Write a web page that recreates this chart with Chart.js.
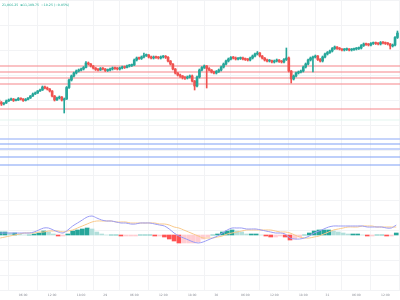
<!DOCTYPE html>
<html><head><meta charset="utf-8">
<script src="https://cdn.jsdelivr.net/npm/chart.js@4.4.1/dist/chart.umd.min.js"></script>
<style>
html,body{margin:0;padding:0;background:#fff;width:400px;height:300px;overflow:hidden}
#wrap{position:relative;width:400px;height:300px}
#c1{position:absolute;left:0;top:0}
#c2{position:absolute;left:0;top:200px}
</style></head><body>
<div id="wrap"><canvas id="c1" width="400" height="200"></canvas><canvas id="c2" width="400" height="100"></canvas></div>
<script>
// 30-minute candles
const opens=[20800,20790,20784,20788,20796,20800,20804,20798,20800,20806,
20804,20798,20802,20808,20816,20824,20828,20836,20840,20852,
20848,20844,20836,20816,20800,20808,20812,20800,20804,20850,
20880,20896,20908,20916,20920,20924,20930,20948,20944,20936,
20928,20922,20920,20926,20924,20918,20920,20924,20928,20926,
20924,20928,20932,20930,20936,20938,20940,20960,20968,20966,
20972,20978,20980,20972,20968,20972,20970,20968,20972,20974,
20971,20956,20944,20924,20908,20900,20896,20890,20888,20892,
20896,20876,20856,20892,20920,20930,20936,20926,20920,20912,
20908,20914,20920,20932,20944,20956,20964,20970,20968,20964,
20966,20968,20964,20962,20960,20968,20976,20984,20988,20976,
20968,20960,20956,20958,20952,20956,20960,20954,20952,20962,
20968,20916,20884,20896,20908,20912,20916,20932,20944,20960,
20968,20972,20976,20962,20956,20972,20984,20990,20996,21006,
21012,21006,21004,21000,21002,21004,21000,21002,21004,21006,
21008,21018,21024,21022,21020,21026,21028,21026,21024,21030,
21028,21026,21024,21016,21020,21050];
const closes=[20790,20784,20788,20796,20800,20804,20798,20800,20806,20804,
20798,20802,20808,20816,20824,20828,20836,20840,20852,20848,
20844,20836,20816,20800,20808,20812,20800,20804,20850,20880,
20896,20908,20916,20920,20924,20930,20948,20944,20936,20928,
20922,20920,20926,20924,20918,20920,20924,20928,20926,20924,
20928,20932,20930,20936,20938,20940,20960,20968,20966,20972,
20978,20980,20972,20968,20972,20970,20968,20972,20974,20971,
20956,20944,20924,20908,20900,20896,20890,20888,20892,20896,
20876,20856,20892,20920,20930,20936,20926,20920,20912,20908,
20914,20920,20932,20944,20956,20964,20970,20968,20964,20966,
20968,20964,20962,20960,20968,20976,20984,20988,20976,20968,
20960,20956,20958,20952,20956,20960,20954,20952,20962,20968,
20916,20884,20896,20908,20912,20916,20932,20944,20960,20968,
20972,20976,20962,20956,20972,20984,20990,20996,21006,21012,
21006,21004,21000,21002,21004,21000,21002,21004,21006,21008,
21018,21024,21022,21020,21026,21028,21026,21024,21030,21028,
21026,21024,21016,21020,21050,21068];
const highs=[20804,20794,20790,20800,20804,20808,20806,20804,20810,20808,
20806,20806,20810,20818,20828,20832,20838,20844,20856,20856,
20852,20846,20838,20818,20812,20816,20814,20808,20854,20884,
20900,20912,20920,20924,20928,20934,20954,20952,20946,20938,
20930,20926,20930,20930,20926,20924,20928,20932,20932,20930,
20932,20936,20936,20940,20942,20944,20964,20972,20972,20976,
20988,20984,20982,20976,20976,20976,20974,20976,20978,20978,
20974,20958,20946,20926,20910,20904,20898,20894,20896,20900,
20900,20878,20896,20924,20934,20940,20938,20930,20922,20916,
20918,20924,20936,20948,20960,20968,20974,20974,20972,20970,
20972,20972,20968,20966,20972,20980,20988,20994,20990,20978,
20970,20964,20962,20960,20960,20964,20962,20958,20966,21008,
20972,20918,20900,20912,20916,20920,20936,20948,20964,20972,
20976,20980,20978,20966,20976,20988,20994,21000,21010,21016,
21014,21010,21006,21006,21008,21006,21006,21008,21010,21012,
21022,21028,21028,21026,21030,21032,21032,21030,21034,21034,
21032,21030,21026,21024,21054,21076];
const lows=[20786,20778,20780,20786,20794,20798,20794,20796,20798,20800,
20794,20796,20800,20806,20814,20822,20826,20834,20838,20844,
20840,20832,20812,20796,20798,20804,20796,20748,20802,20846,
20876,20892,20904,20912,20916,20920,20928,20940,20932,20924,
20918,20916,20918,20920,20914,20914,20916,20920,20922,20920,
20920,20924,20926,20928,20932,20934,20938,20956,20962,20962,
20968,20974,20968,20964,20964,20966,20964,20964,20968,20966,
20952,20940,20920,20904,20896,20890,20884,20882,20884,20888,
20872,20840,20852,20888,20916,20926,20848,20916,20908,20904,
20904,20910,20916,20928,20940,20952,20960,20964,20960,20960,
20962,20960,20958,20956,20956,20964,20972,20980,20972,20964,
20956,20952,20952,20948,20948,20952,20950,20948,20948,20958,
20912,20868,20880,20892,20904,20908,20912,20928,20940,20956,
20912,20968,20958,20952,20952,20968,20980,20986,20992,21002,
21002,21000,20996,20996,20998,20996,20996,20998,21000,21002,
21004,21014,21018,21016,21016,21022,21022,21020,21020,21024,
21022,21020,21004,21012,21016,21046];
// MACD (12,26,9) read hourly
const macdLine=[2,2,2,2,2,2,2,3,5,7,
7,5,3,2,5,9,12,15,18,19,
17,15,14,14,13,12,12,11,11,12,
12,12,11,10,9,6,2,-1,-3,-5,
-7,-8,-7,-5,-3,-1,2,5,7,7,
7,6,6,6,5,4,3,2,2,1,
-3,-4,-4,-3,-1,2,4,6,8,9,
9,9,9,9,9,9,8,8,8,8,
7,7,10];
const signalLine=[-3,-2,-1,0,1,2,2,2,3,3,
4,4,4,3,4,5,7,9,11,13,
14,14,14,14,13,13,13,12,12,12,
12,12,12,11,11,10,8,7,5,3,
1,-1,-3,-3,-3,-2,-1,1,2,3,
4,5,5,5,5,5,5,4,3,3,
2,0,-2,-3,-3,-2,-1,1,3,5,
6,7,8,8,8,9,9,9,8,8,
8,8,8];
const histogram=[3,3,2,2,1,0,0,1,2,4,
3,1,-1,-1,1,4,5,6,7,6,
3,1,0,0,0,-1,-1,-1,-1,0,
0,0,-1,-1,-2,-4,-6,-8,-8,-8,
-8,-7,-4,-2,0,1,3,4,5,4,
3,1,1,1,0,-1,-2,-2,-1,-2,
-5,-4,-2,0,2,4,5,5,5,4,
3,2,1,1,1,0,-1,-1,0,0,
-1,-1,2];
const tickIndex=[10,22,34,44,56,68,80,90,102,114,126,136,148,160];
const tickLabels=['06:00','12:00','18:00','29','06:00','12:00','18:00','30','06:00','12:00','18:00','31','06:00','12:00'];
const redLevels=[20936,20912,20888,20864,20764];
const greenLevels=[20720];
const blueLevels=[20624,20572,20540];
const lightBlueLevels=[20644,20604];
const legendText=['21,066.25','⊕11,109.75','−10.25 (−0.05%)'];

const UP='#26a69a', DN='#ef5350';
const X_MIN=0.41, X_MAX=166.05;
const GRID='#f2f3f5';
const idx=opens.map((_,i)=>i);
const hIdx=macdLine.map((_,i)=>i);
const hx=i=>2*i+0.5; // hourly indicator value sits between its two 30-min bars

function xScale(showLabels){
  return {type:'linear',min:X_MIN,max:X_MAX,offset:false,
    afterBuildTicks:s=>{s.ticks=tickIndex.map(v=>({value:v}));},
    ticks:{display:showLabels,autoSkip:false,maxRotation:0,padding:3,color:'#8a8d96',
      font:{family:'DejaVu Sans',size:3},
      callback:(v)=>{const k=tickIndex.indexOf(v);return k>=0?tickLabels[k]:'';}},
    grid:{color:GRID,drawTicks:false,lineWidth:1},
    border:{display:false},
    afterFit:s=>{s.height=showLabels?10:0;}
  };
}
function levelSets(levels,color,width){
  return levels.map(v=>({type:'line',data:[{x:-5,y:v},{x:200,y:v}],borderColor:color,borderWidth:width,pointRadius:0,fill:false,order:5}));
}
const legendPlugin={id:'legendTxt',afterDraw(chart){
  const c=chart.ctx;c.save();c.font='3.2px DejaVu Sans';c.textBaseline='middle';
  let x=2;
  legendText.forEach((t)=>{c.fillStyle='#22ab94';c.fillText(t,x,5);x+=c.measureText(t).width+2;});
  c.restore();}};

new Chart(document.getElementById('c1'),{
  type:'bar',
  data:{datasets:[
    ...levelSets(redLevels,'#f5868a',1.2),
    ...levelSets(greenLevels,'#e3f5ef',1),
    ...levelSets(lightBlueLevels,'#b3c6fa',1.6),
    ...levelSets(blueLevels,'#7f9ff6',1.2),
    {type:'bar',data:idx.map(i=>({x:i,y:[lows[i],highs[i]]})),
     backgroundColor:c=>closes[c.dataIndex]>=opens[c.dataIndex]?UP:DN,
     barThickness:1,grouped:false,order:2,minBarLength:1},
    {type:'bar',data:idx.map(i=>({x:i,y:[opens[i],closes[i]]})),
     backgroundColor:c=>closes[c.dataIndex]>=opens[c.dataIndex]?UP:DN,
     barThickness:2,grouped:false,order:1,minBarLength:1}
  ]},
  options:{responsive:false,animation:false,devicePixelRatio:1,
    layout:{padding:0},
    plugins:{legend:{display:false},tooltip:{enabled:false}},
    scales:{x:xScale(false),
      y:{min:20400,max:21200,ticks:{display:false,stepSize:100},grid:{color:GRID,drawTicks:false},border:{display:false},afterFit:s=>{s.width=0;}}}
  },
  plugins:[legendPlugin]
});

function histColor(i){
  const v=histogram[i],p=i>0?histogram[i-1]:v;
  if(v>=0) return v>=p?'#26a69a':'#b2dfdb';
  return v<p?'#ff5252':'#ffcdd2';
}
new Chart(document.getElementById('c2'),{
  type:'bar',
  data:{datasets:[
    {type:'line',data:hIdx.map(i=>({x:hx(i),y:macdLine[i]})),borderColor:'#9a9cf5',borderWidth:1,pointRadius:0,tension:0.3,order:1},
    {type:'line',data:hIdx.map(i=>({x:hx(i),y:signalLine[i]})),borderColor:'#f9c98a',borderWidth:1,pointRadius:0,tension:0.3,order:2},
    {type:'bar',data:hIdx.map(i=>({x:hx(i),y:histogram[i]})),backgroundColor:hIdx.map(histColor),barThickness:4,grouped:false,order:3}
  ]},
  options:{responsive:false,animation:false,devicePixelRatio:1,
    layout:{padding:0},
    plugins:{legend:{display:false},tooltip:{enabled:false}},
    scales:{x:xScale(true),
      y:{min:-55,max:35,ticks:{display:false,stepSize:15},grid:{color:GRID,drawTicks:false},border:{display:false},afterFit:s=>{s.width=0;}}}
  }
});
</script></body></html>
